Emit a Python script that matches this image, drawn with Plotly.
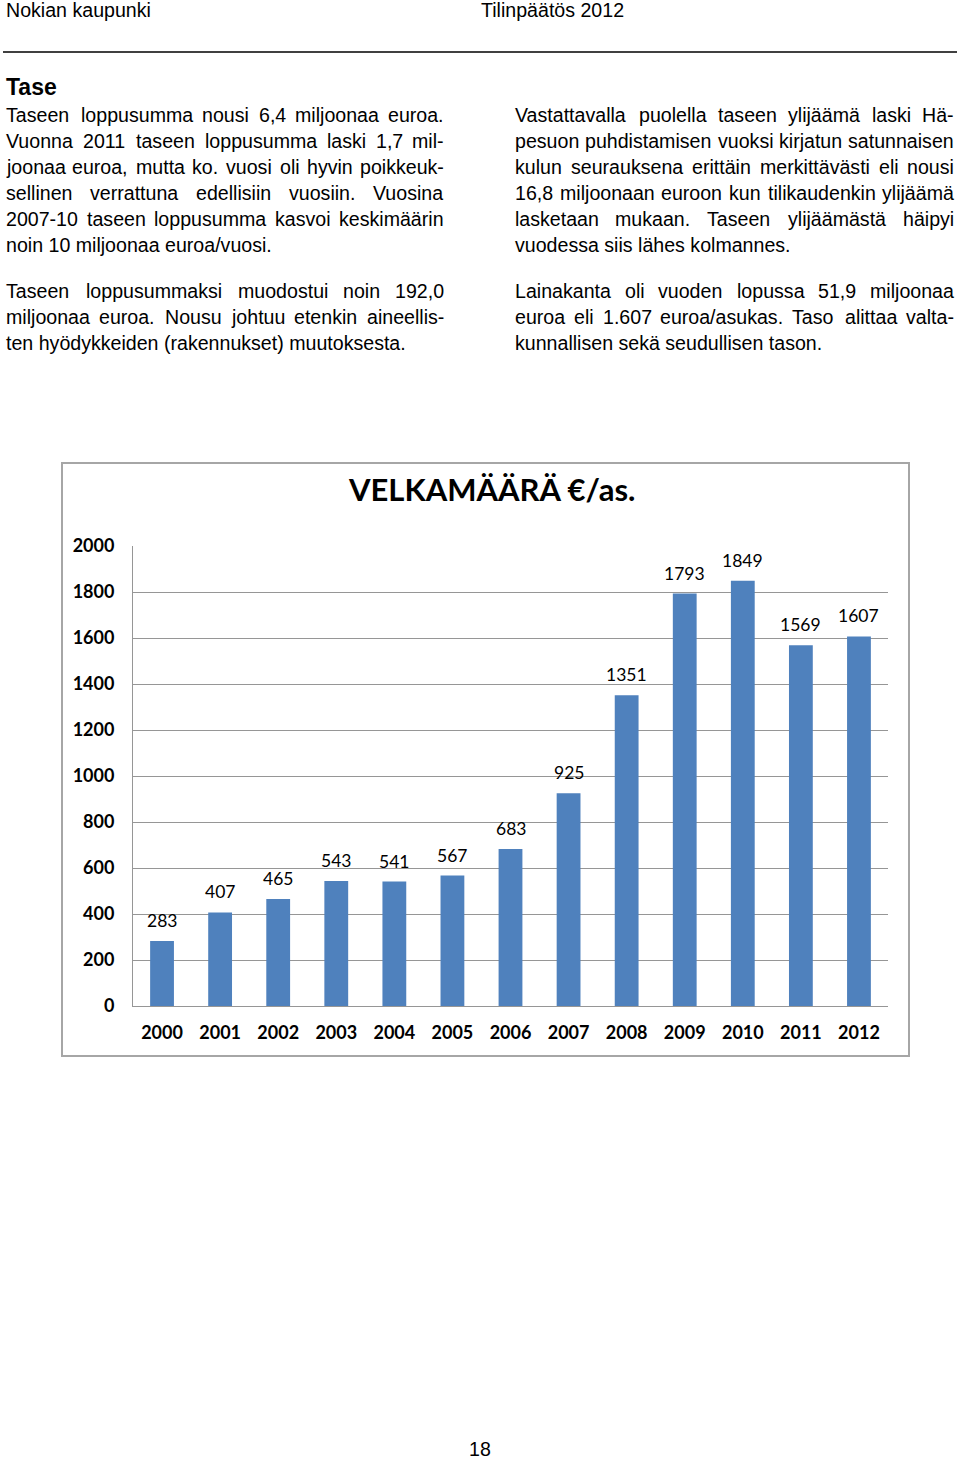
import plotly.graph_objects as go

# ---------------- data ----------------
years = ["2000", "2001", "2002", "2003", "2004", "2005", "2006",
         "2007", "2008", "2009", "2010", "2011", "2012"]
debt_per_capita = [283, 407, 465, 543, 541, 567, 683, 925, 1351, 1793, 1849, 1569, 1607]
y_ticks = [0, 200, 400, 600, 800, 1000, 1200, 1400, 1600, 1800, 2000]

chart_title = "VELKAMÄÄRÄ €/as."
header_left = "Nokian kaupunki"
header_right = "Tilinpäätös 2012"
section_title = "Tase"
page_number = "18"

left_par1 = [
    "Taseen loppusumma nousi 6,4 miljoonaa euroa.",
    "Vuonna 2011 taseen loppusumma laski 1,7 mil-",
    "joonaa euroa, mutta ko. vuosi oli hyvin poikkeuk-",
    "sellinen verrattuna edellisiin vuosiin. Vuosina",
    "2007-10 taseen loppusumma kasvoi keskimäärin",
    "noin 10 miljoonaa euroa/vuosi.",
]
left_par2 = [
    "Taseen loppusummaksi muodostui noin 192,0",
    "miljoonaa euroa. Nousu johtuu etenkin aineellis-",
    "ten hyödykkeiden (rakennukset) muutoksesta.",
]
right_par1 = [
    "Vastattavalla puolella taseen ylijäämä laski Hä-",
    "pesuon puhdistamisen vuoksi kirjatun satunnaisen",
    "kulun seurauksena erittäin merkittävästi eli nousi",
    "16,8 miljoonaan euroon kun tilikaudenkin ylijäämä",
    "lasketaan mukaan. Taseen ylijäämästä häipyi",
    "vuodessa siis lähes kolmannes.",
]
right_par2 = [
    "Lainakanta oli vuoden lopussa 51,9 miljoonaa",
    "euroa eli 1.607 euroa/asukas. Taso alittaa valta-",
    "kunnallisen sekä seudullisen tason.",
]

# ---------------- page geometry ----------------
PW, PH = 960, 1459
BODY_FONT = "Liberation Sans, Arial, sans-serif"
CHART_FONT = "Lato, Carlito, Calibri, sans-serif"
BODY_SIZE = 19.6
BAR_COLOR = "#4f81bd"
GRID = "#969696"

def px(x):
    return x / PW

def py(y):
    return 1 - y / PH

# Arial / Liberation Sans advance widths (per 1000 em)
AW = {c: 556 for c in "abdeghnopqu0123456789äöå"}
AW.update({"c": 500, "f": 278, "i": 222, "j": 222, "k": 500, "l": 222, "m": 833,
           "r": 333, "s": 500, "t": 278, "v": 500, "w": 722, "x": 500, "y": 500, "z": 500,
           " ": 278, ".": 278, ",": 278, "-": 333, "/": 278, "(": 333, ")": 333,
           "A": 667, "B": 667, "C": 722, "D": 722, "E": 667, "F": 611, "G": 778, "H": 722,
           "I": 278, "J": 500, "K": 667, "L": 556, "M": 833, "N": 722, "O": 778, "P": 667,
           "R": 722, "S": 667, "T": 611, "U": 722, "V": 667, "W": 944, "Y": 667})

def text_width(s, size=BODY_SIZE):
    return sum(AW.get(ch, 556) for ch in s) * size / 1000

annotations = []

def add_text(text, x, y, size=BODY_SIZE, bold=False, anchor="left", family=BODY_FONT):
    annotations.append(dict(
        text=f"<b>{text}</b>" if bold else text,
        x=px(x), y=py(y), xref="paper", yref="paper",
        xanchor=anchor, yanchor="middle", showarrow=False,
        borderpad=0, borderwidth=0,
        font=dict(family=family, size=size, color="#000000"),
    ))

def add_paragraph(lines, x0, x1, y0, step=26):
    for i, line in enumerate(lines):
        y = y0 + i * step
        words = line.split(" ")
        last = i == len(lines) - 1
        if last or len(words) < 2:
            add_text(line, x0, y)
        else:
            widths = [text_width(w) for w in words]
            gap = (x1 - x0 - sum(widths)) / (len(words) - 1)
            x = x0
            for w, wd in zip(words, widths):
                add_text(w, x, y)
                x += wd + gap

# header / body text
add_text(header_left, 6, 10)
add_text(header_right, 481, 10)
add_text(section_title, 6, 87, size=23, bold=True)
add_paragraph(left_par1, 6, 444, 115)
add_paragraph(left_par2, 6, 444, 291)
add_paragraph(right_par1, 515, 954, 115)
add_paragraph(right_par2, 515, 954, 291)
add_text(page_number, 480, 1449, anchor="center")

# chart title
add_text(chart_title, 491, 489, size=31, bold=True, anchor="center", family=CHART_FONT)

# bar value labels (x given as category index on the category axis)
for i, v in enumerate(debt_per_capita):
    annotations.append(dict(
        text=str(v), x=i, y=v, xref="x", yref="y",
        xanchor="center", yanchor="bottom", showarrow=False, yshift=8,
        font=dict(family=CHART_FONT, size=17.5, color="#000000"),
    ))

fig = go.Figure(go.Bar(
    x=years, y=debt_per_capita, width=0.41,
    marker=dict(color=BAR_COLOR, line=dict(width=0)),
    hoverinfo="x+y",
))

shapes = [
    # header rule
    dict(type="line", xref="paper", yref="paper", x0=px(3), x1=px(957), y0=py(52), y1=py(52),
         line=dict(color="#000000", width=1.3)),
    # chart frame
    dict(type="rect", xref="paper", yref="paper", x0=px(62), x1=px(909), y0=py(463), y1=py(1056),
         line=dict(color="#a6a6a6", width=2), fillcolor="rgba(0,0,0,0)", layer="below"),
]

fig.update_layout(
    width=PW, height=PH,
    margin=dict(l=0, r=0, t=0, b=0, pad=0, autoexpand=False),
    paper_bgcolor="#ffffff", plot_bgcolor="#ffffff",
    showlegend=False,
    annotations=annotations,
    shapes=shapes,
    xaxis=dict(
        domain=[px(133), px(888)],
        type="category",
        range=[-0.5, len(years) - 0.5],
        automargin=False,
        showgrid=False, zeroline=False,
        showline=True, linecolor=GRID, linewidth=1,
        ticks="", ticklabelstandoff=10,
        tickfont=dict(family=CHART_FONT, size=18, color="#000000", weight="bold"),
        fixedrange=True,
    ),
    yaxis=dict(
        domain=[py(1006), py(546)],
        range=[0, 2000],
        tickvals=y_ticks,
        automargin=False,
        showgrid=True, gridcolor=GRID, gridwidth=1,
        zeroline=False,
        showline=True, linecolor=GRID, linewidth=1,
        ticks="", ticklabelstandoff=14,
        tickfont=dict(family=CHART_FONT, size=18, color="#000000", weight="bold"),
        fixedrange=True,
    ),
)

fig.write_html("out.html")
